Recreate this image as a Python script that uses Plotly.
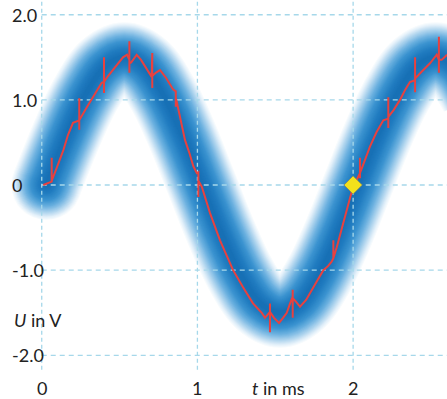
import plotly.graph_objects as go
import numpy as np

# ---------------- data ----------------
# ideal signal (blue glow band)
band_t = [0.03 + 0.125 * k for k in range(23)]
band_u = [0.00, 0.57, 1.06, 1.39, 1.50, 1.39, 1.06, 0.57, 0.00, -0.57, -1.06, -1.39,
          -1.50, -1.39, -1.06, -0.57, 0.00, 0.57, 1.06, 1.39, 1.50, 1.39, 1.06]

# measured noisy signal (red), spikes included as vertical excursions
red_t = [0.010, 0.034, 0.064, 0.064, 0.064, 0.064, 0.092, 0.139, 0.169, 0.201, 0.241, 0.241, 0.241, 0.241,
         0.285, 0.329, 0.385, 0.400, 0.400, 0.400, 0.400, 0.426, 0.458, 0.490, 0.522, 0.548,
         0.563, 0.563, 0.563, 0.563, 0.575, 0.610, 0.638, 0.670, 0.706, 0.710, 0.710, 0.710,
         0.734, 0.760, 0.798, 0.845, 0.861, 0.861, 0.861, 0.867, 0.888, 0.920, 0.946, 0.974, 0.996,
         1.006, 1.006, 1.006, 1.028, 1.055, 1.081, 1.145, 1.184, 1.229, 1.293, 1.357, 1.413, 1.434,
         1.466, 1.466, 1.466, 1.466, 1.492, 1.524, 1.550, 1.574, 1.595, 1.612, 1.612, 1.612, 1.612,
         1.633, 1.659, 1.698, 1.734, 1.770, 1.809, 1.840, 1.862, 1.873, 1.873, 1.873, 1.895, 1.920,
         1.948, 1.970, 1.991, 2.001, 2.020, 2.044, 2.044, 2.044, 2.044, 2.075, 2.108, 2.150, 2.194,
         2.226, 2.226, 2.226, 2.226, 2.260, 2.301, 2.335, 2.365, 2.398, 2.398, 2.398, 2.398, 2.440,
         2.494, 2.537, 2.551, 2.551, 2.551, 2.551, 2.569, 2.603]
red_u = [0.00, 0.02, 0.04, 0.32, 0.03, 0.05, 0.18, 0.41, 0.59, 0.73, 0.76, 1.02, 0.65, 0.76,
         0.90, 1.03, 1.20, 1.21, 1.50, 1.08, 1.21, 1.28, 1.35, 1.43, 1.50, 1.53,
         1.47, 1.69, 1.32, 1.43, 1.44, 1.53, 1.47, 1.37, 1.27, 1.55, 1.14, 1.28,
         1.32, 1.35, 1.26, 1.12, 1.10, 0.92, 1.02, 0.98, 0.80, 0.53, 0.39, 0.22, 0.14,
         0.15, -0.14, 0.05, -0.02, -0.18, -0.33, -0.65, -0.82, -1.00, -1.20, -1.39, -1.50, -1.56,
         -1.49, -1.39, -1.73, -1.49, -1.56, -1.62, -1.56, -1.50, -1.39, -1.31, -1.23, -1.56, -1.33,
         -1.37, -1.43, -1.35, -1.23, -1.12, -1.00, -0.95, -0.90, -0.86, -0.65, -0.86, -0.73, -0.55,
         -0.37, -0.22, -0.08, -0.02, 0.05, 0.14, 0.32, 0.08, 0.14, 0.29, 0.45, 0.62, 0.76,
         0.78, 1.03, 0.67, 0.80, 0.88, 1.00, 1.12, 1.21, 1.23, 1.50, 1.09, 1.25, 1.33,
         1.43, 1.53, 1.47, 1.74, 1.32, 1.47, 1.47, 1.53]

marker_t = [2.0]
marker_u = [0.0]

x_ticks = [0, 1, 2]
x_tick_labels = ["0", "1", "2"]
y_ticks = [2.0, 1.0, 0.0, -1.0, -2.0]
y_tick_labels = ["2.0", "1.0", "0", "-1.0", "-2.0"]

X_RANGE = [-0.268, 2.603]
Y_RANGE = [-2.513, 2.173]

FONT = "Lato, 'Noto Sans', sans-serif"
TEXT_COLOR = "#222222"
GRID_COLOR = "#a6d8ea"

fig = go.Figure()

# ---------------- glow band ----------------
stops_r = [0.0, 0.25, 0.45, 0.62, 0.78, 0.90, 1.0]
stops_c = np.array([[20, 108, 178], [34, 125, 193], [60, 148, 208],
                    [110, 178, 224], [175, 212, 238], [225, 239, 249], [255, 255, 255]], dtype=float)

def col_at(r):
    c = [np.interp(r, stops_r, stops_c[:, i]) for i in range(3)]
    return "rgb(%d,%d,%d)" % tuple(int(round(v)) for v in c)

max_w = 72
for w in range(max_w, 2, -2):
    c = col_at(w / max_w)
    fig.add_trace(go.Scatter(x=band_t, y=band_u, mode="lines",
                             line=dict(color=c, width=w, shape="spline", smoothing=1.0),
                             hoverinfo="skip", showlegend=False))
    fig.add_trace(go.Scatter(x=band_t[:1], y=band_u[:1], mode="markers",
                             marker=dict(color=c, size=w, line=dict(width=0)),
                             hoverinfo="skip", showlegend=False))

# ---------------- grid (dashed) ----------------
for yv in y_ticks:
    fig.add_trace(go.Scatter(x=[0, X_RANGE[1]], y=[yv, yv], mode="lines",
                             line=dict(color=GRID_COLOR, width=1.3, dash="5px,4px"),
                             hoverinfo="skip", showlegend=False))
for xv in x_ticks:
    fig.add_trace(go.Scatter(x=[xv, xv], y=[-2.17, Y_RANGE[1]], mode="lines",
                             line=dict(color=GRID_COLOR, width=1.3, dash="4px,3px"),
                             hoverinfo="skip", showlegend=False))

# ---------------- measured signal ----------------
fig.add_trace(go.Scatter(x=red_t, y=red_u, mode="lines",
                         line=dict(color="#e8413f", width=2),
                         hoverinfo="skip", showlegend=False))

fig.add_trace(go.Scatter(x=marker_t, y=marker_u, mode="markers",
                         marker=dict(symbol="diamond", size=14, color="#f2e11c",
                                     line=dict(color="#8a8a5a", width=0.8)),
                         hoverinfo="skip", showlegend=False))

# ---------------- labels ----------------
ann = []
for yv, lab in zip(y_ticks, y_tick_labels):
    ann.append(dict(x=10 / 447, xref="paper", xanchor="left", y=yv, yref="y", yanchor="middle",
                    text=lab, showarrow=False, font=dict(family=FONT, size=18, color=TEXT_COLOR)))
for xv, lab in zip(x_ticks, x_tick_labels):
    ann.append(dict(x=xv, xref="x", xanchor="center", y=-2.385, yref="y", yanchor="middle",
                    text=lab, showarrow=False, font=dict(family=FONT, size=18, color=TEXT_COLOR)))
ann.append(dict(x=1.518, xref="x", xanchor="center", y=-2.385, yref="y", yanchor="middle",
                text="<i>t</i> in ms", showarrow=False, font=dict(family=FONT, size=18, color=TEXT_COLOR)))
ann.append(dict(x=12 / 447, xref="paper", xanchor="left", y=-1.585, yref="y", yanchor="middle",
                text="<i>U</i> in V", showarrow=False, font=dict(family=FONT, size=18, color=TEXT_COLOR)))

fig.update_layout(
    width=447, height=399,
    margin=dict(l=0, r=0, t=0, b=0),
    paper_bgcolor="white", plot_bgcolor="white",
    xaxis=dict(range=X_RANGE, visible=False, fixedrange=True),
    yaxis=dict(range=Y_RANGE, visible=False, fixedrange=True),
    annotations=ann,
)

fig.write_html("out.html", post_script="document.body.style.margin='0';",
               config={"displayModeBar": False})
